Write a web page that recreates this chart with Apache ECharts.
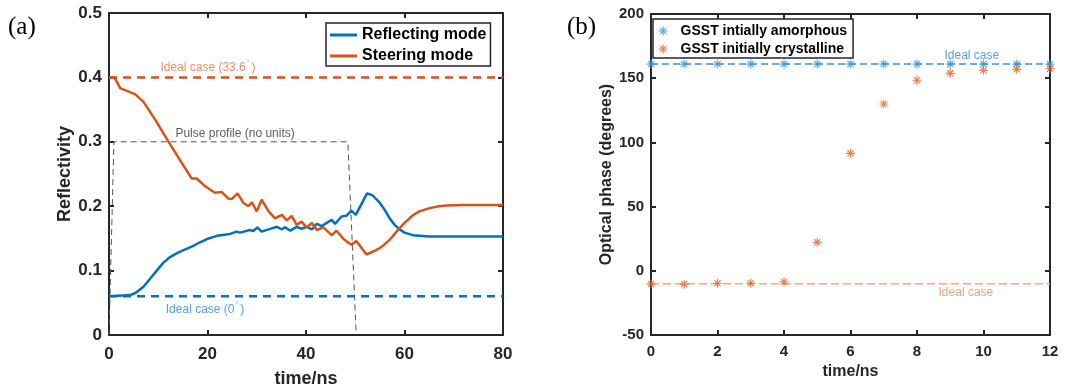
<!DOCTYPE html>
<html>
<head>
<meta charset="utf-8">
<script src="https://cdn.jsdelivr.net/npm/echarts@6/dist/echarts.min.js"></script>
<style>
  html, body { margin: 0; padding: 0; background: #fff; }
  #main { width: 1065px; height: 389px; }
</style>
</head>
<body>
<div id="main"></div>
<script>
// (a) reflectivity vs time
const tRefl = [0, 4.3, 5.3, 7, 8.3, 9.7, 11, 12.4, 14, 15.5, 17, 18.5, 19.9, 21.9, 24.6, 25.9, 26.6, 28.6, 29.3, 30.1, 31, 32.4, 34.1, 35.1, 35.7, 36.8, 38.1, 39.1, 40.1, 41.2, 42.2, 43.2, 45.2, 45.9, 47.2, 48.2, 49.2, 50.1, 52.4, 53.5, 55, 56, 57, 58, 59, 60, 61.7, 65, 80];
const vRefl = [0.060, 0.062, 0.065, 0.075, 0.087, 0.100, 0.112, 0.121, 0.128, 0.133, 0.138, 0.144, 0.149, 0.154, 0.157, 0.1605, 0.159, 0.163, 0.1615, 0.167, 0.1605, 0.164, 0.168, 0.164, 0.1675, 0.162, 0.168, 0.165, 0.168, 0.164, 0.1725, 0.169, 0.179, 0.1725, 0.184, 0.185, 0.193, 0.1865, 0.220, 0.217, 0.205, 0.194, 0.181, 0.171, 0.164, 0.159, 0.155, 0.153, 0.153];
const tSteer = [0, 1.1, 2.3, 4, 5.3, 7, 9.4, 12.1, 14.8, 16.8, 17.8, 19.2, 20.5, 21.5, 22.9, 24.2, 24.9, 26.1, 27.3, 28.3, 29, 30, 31, 32.4, 33.7, 35.1, 36.1, 37.1, 38.1, 39.1, 40.1, 41.2, 42.2, 43.5, 45.2, 46.2, 47.6, 49.2, 50.2, 52.3, 54, 55, 56, 57, 58, 59, 60, 61.7, 63, 65.1, 67, 68.5, 72, 80];
const vSteer = [0.400, 0.400, 0.383, 0.378, 0.374, 0.362, 0.334, 0.300, 0.267, 0.243, 0.243, 0.233, 0.226, 0.221, 0.222, 0.212, 0.211, 0.220, 0.205, 0.200, 0.206, 0.192, 0.210, 0.192, 0.181, 0.1865, 0.178, 0.185, 0.171, 0.176, 0.167, 0.174, 0.163, 0.167, 0.155, 0.162, 0.149, 0.140, 0.146, 0.125, 0.131, 0.135, 0.141, 0.148, 0.157, 0.166, 0.174, 0.186, 0.192, 0.197, 0.200, 0.201, 0.202, 0.202];
const idealSteer = 0.40;
const idealRefl = 0.06;
const tPulse = [0, 1, 48.5, 50.2];
const vPulse = [0, 0.3, 0.3, 0];

// (b) optical phase vs time
const tPhase = [0, 1, 2, 3, 4, 5, 6, 7, 8, 9, 10, 11, 12];
const phaseAmorph = [161, 161, 161, 161, 161, 161, 161, 161, 161, 161, 161, 161, 161];
const phaseCryst = [-10.3, -10.5, -9.7, -9.7, -8.7, 22.2, 91.5, 129.9, 148.4, 153.8, 156.1, 156.9, 157.4];
const idealAmorph = 161;
const idealCryst = -10;

const BLUE = '#0072BD';
const ORANGE = '#D95319';
const AXIS = '#262626';
const FONT = 'Liberation Sans';
const STAR = 'path://M5,0 L5,10 M0,5 L10,5 M1.6,1.6 L8.4,8.4 M1.6,8.4 L8.4,1.6';

const zip = (xs, ys) => xs.map((x, i) => [x, ys[i]]);

function mainX(grid, min, max, interval, fs, gap, margin) {
  return {
    type: 'value', gridIndex: grid, min, max, interval, position: 'bottom',
    name: 'time/ns', nameLocation: 'middle', nameGap: gap,
    nameTextStyle: { fontFamily: FONT, fontWeight: 'bold', fontSize: fs + 1, color: AXIS },
    axisLine: { show: true, onZero: false, lineStyle: { color: AXIS, width: 2 } },
    axisTick: { show: true, inside: true, length: 5, lineStyle: { color: AXIS, width: 2 } },
    axisLabel: { fontFamily: FONT, fontWeight: 'bold', fontSize: fs, color: AXIS, margin },
    splitLine: { show: false }
  };
}
function mirror(grid, min, max, interval, pos) {
  return {
    type: 'value', gridIndex: grid, min, max, interval, position: pos,
    axisLine: { show: true, onZero: false, lineStyle: { color: AXIS, width: 2 } },
    axisTick: { show: true, inside: true, length: 5, lineStyle: { color: AXIS, width: 2 } },
    axisLabel: { show: false }, splitLine: { show: false }
  };
}
function mainY(grid, min, max, interval, name, fs, gap) {
  return {
    type: 'value', gridIndex: grid, min, max, interval, position: 'left',
    name, nameLocation: 'middle', nameGap: gap,
    nameTextStyle: { fontFamily: FONT, fontWeight: 'bold', fontSize: fs + 1, color: AXIS },
    axisLine: { show: true, onZero: false, lineStyle: { color: AXIS, width: 2 } },
    axisTick: { show: true, inside: true, length: 5, lineStyle: { color: AXIS, width: 2 } },
    axisLabel: { fontFamily: FONT, fontWeight: 'bold', fontSize: fs, color: AXIS, margin: 7 },
    splitLine: { show: false }
  };
}

function note(text, x, y, color, xi, yi) {
  return {
    type: 'scatter', xAxisIndex: xi, yAxisIndex: yi, silent: true, symbolSize: 0,
    data: [[x, y]], z: 5,
    label: {
      show: true, position: 'inside', formatter: text,
      fontFamily: FONT, fontSize: 12, color,
      rich: { s: { fontFamily: FONT, fontSize: 7, color, padding: [0, 2, 9, 1] } }
    }
  };
}

const chart = echarts.init(document.getElementById('main'));
chart.setOption({
  animation: false,
  backgroundColor: '#fff',
  grid: [
    { left: 109, right: 562, top: 13, bottom: 54, outerBoundsMode: 'none', containLabel: false },
    { left: 651, right: 15, top: 14, bottom: 54, outerBoundsMode: 'none', containLabel: false }
  ],
  xAxis: [
    mainX(0, 0, 80, 20, 17, 35, 11),
    mirror(0, 0, 80, 20, 'top'),
    mainX(1, 0, 12, 2, 15, 28, 9),
    mirror(1, 0, 12, 2, 'top')
  ],
  yAxis: [
    mainY(0, 0, 0.5, 0.1, 'Reflectivity', 17, 34),
    mirror(0, 0, 0.5, 0.1, 'right'),
    mainY(1, -50, 200, 50, 'Optical phase (degrees)', 15, 33),
    mirror(1, -50, 200, 50, 'right')
  ],
  legend: [
    {
      orient: 'vertical', left: 326, top: 23,
      padding: [4, 4, 2, 4], itemGap: 5, itemWidth: 27, itemHeight: 3, icon: 'rect',
      backgroundColor: '#fff', borderColor: AXIS, borderWidth: 1.5,
      textStyle: { fontFamily: FONT, fontWeight: 'bold', fontSize: 16, color: '#000' },
      data: ['Reflecting mode', 'Steering mode']
    },
    {
      orient: 'vertical', left: 653, top: 19,
      padding: [5, 6, 2, 5], itemGap: 4, itemWidth: 25, itemHeight: 9,
      backgroundColor: '#fff', borderColor: AXIS, borderWidth: 1.5,
      itemStyle: { borderWidth: 1.2 },
      textStyle: { fontFamily: FONT, fontWeight: 'bold', fontSize: 14, color: '#000' },
      data: ['GSST intially amorphous', 'GSST initially crystalline']
    }
  ],
  series: [
    {
      name: 'Pulse', type: 'line', xAxisIndex: 0, yAxisIndex: 0, symbol: 'none', silent: true,
      data: zip(tPulse, vPulse), z: 1,
      lineStyle: { color: '#555', width: 1, type: [6, 4] }
    },
    {
      name: 'IdealSteer', type: 'line', xAxisIndex: 0, yAxisIndex: 0, symbol: 'none', silent: true,
      data: [[0, idealSteer], [80, idealSteer]], z: 2,
      lineStyle: { color: ORANGE, width: 2.5, type: [8, 6] }
    },
    {
      name: 'IdealRefl', type: 'line', xAxisIndex: 0, yAxisIndex: 0, symbol: 'none', silent: true,
      data: [[0, idealRefl], [80, idealRefl]], z: 2,
      lineStyle: { color: BLUE, width: 2.5, type: [8, 6] }
    },
    {
      name: 'Reflecting mode', type: 'line', xAxisIndex: 0, yAxisIndex: 0, symbol: 'none',
      data: zip(tRefl, vRefl), z: 3, color: BLUE,
      lineStyle: { color: BLUE, width: 2.5 }
    },
    {
      name: 'Steering mode', type: 'line', xAxisIndex: 0, yAxisIndex: 0, symbol: 'none',
      data: zip(tSteer, vSteer), z: 3, color: ORANGE,
      lineStyle: { color: ORANGE, width: 2.5 }
    },
    note('Ideal case (33.6{s|°})', 20.1, 0.415, '#E8743F', 0, 0),
    note('Ideal case (0{s|°})', 19.5, 0.040, '#2A87CF', 0, 0),
    note('Pulse profile (no units)', 25.6, 0.312, '#333', 0, 0),

    {
      name: 'IdealAmorph', type: 'line', xAxisIndex: 2, yAxisIndex: 2, symbol: 'none', silent: true,
      data: [[0, idealAmorph], [12, idealAmorph]], z: 2,
      lineStyle: { color: '#3A93D6', width: 1.5, type: [7, 4] }
    },
    {
      name: 'IdealCryst', type: 'line', xAxisIndex: 2, yAxisIndex: 2, symbol: 'none', silent: true,
      data: [[0, idealCryst], [12, idealCryst]], z: 2,
      lineStyle: { color: '#F2A989', width: 1.5, type: [8, 4] }
    },
    {
      name: 'GSST intially amorphous', type: 'scatter', xAxisIndex: 2, yAxisIndex: 2,
      symbol: STAR, symbolSize: 9, symbolKeepAspect: true, z: 3,
      data: zip(tPhase, phaseAmorph),
      itemStyle: { color: '#3A93D6', borderColor: '#3A93D6', borderWidth: 1.2 }
    },
    {
      name: 'GSST initially crystalline', type: 'scatter', xAxisIndex: 2, yAxisIndex: 2,
      symbol: STAR, symbolSize: 9, symbolKeepAspect: true, z: 4,
      data: zip(tPhase, phaseCryst),
      itemStyle: { color: '#E2622A', borderColor: '#E2622A', borderWidth: 1.2 }
    },
    note('Ideal case', 9.65, 167.5, '#2F8AD0', 2, 2),
    note('Ideal case', 9.47, -17, '#F08B5E', 2, 2)
  ],
  graphic: [
    { type: 'text', left: 8, top: 15, style: { text: '(a)', font: '25px "Liberation Serif"', fill: '#000' } },
    { type: 'text', left: 567, top: 15, style: { text: '(b)', font: '25px "Liberation Serif"', fill: '#000' } }
  ]
});
</script>
</body>
</html>
